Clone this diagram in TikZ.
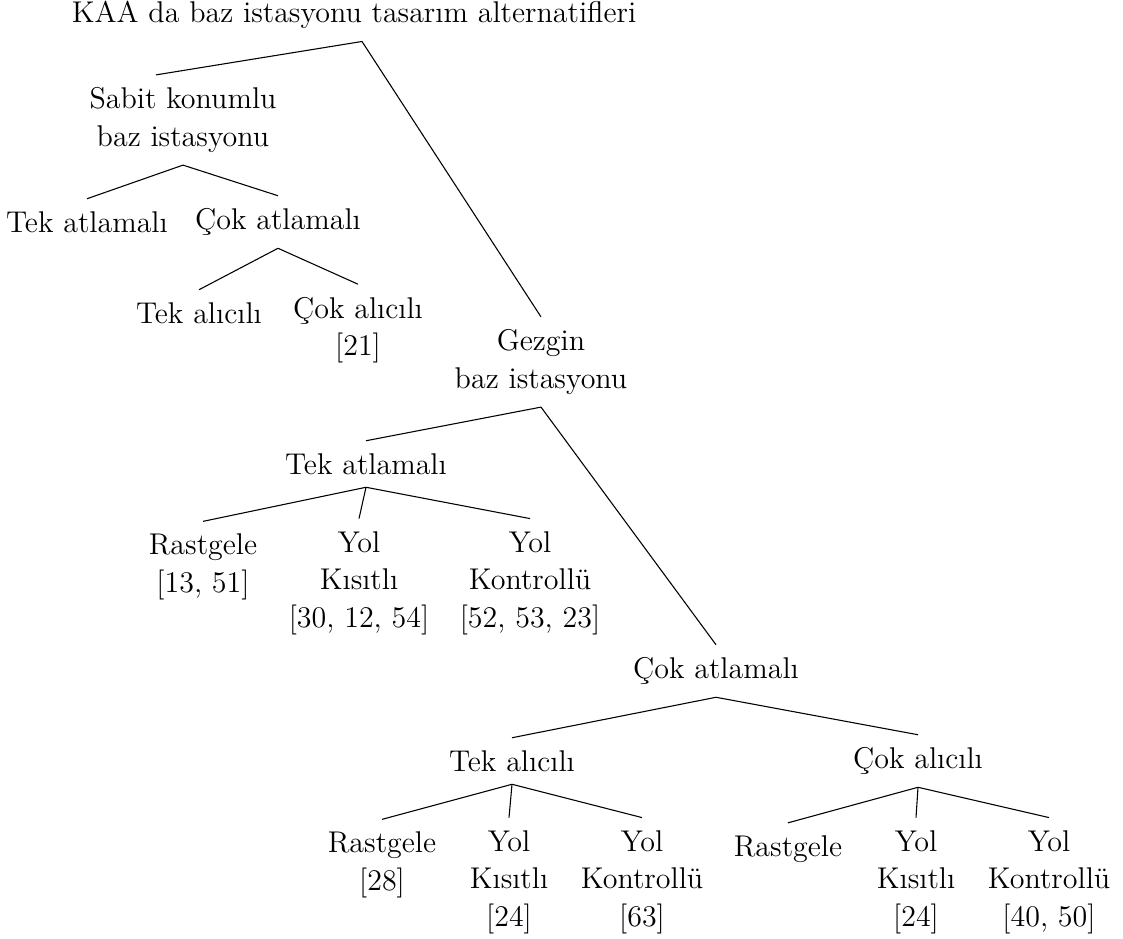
\documentclass[tikz,border=0pt]{standalone}
\usepackage{fontspec}

\begin{document}
\begin{tikzpicture}[x=0.37pt,y=-0.37pt,line width=.4pt,
  every node/.style={align=center,inner xsep=2pt,inner ysep=4.5pt,
    font=\fontsize{11.1}{13.9}\selectfont}]
  \useasboundingbox (0,0) rectangle (1123,938);

  \node (kaa) at (354,15) {KAA da baz istasyonu tasarım alternatifleri};
  \node (sabit) at (183,120) {Sabit konumlu\\baz istasyonu};
  \node (gezgin) at (541,362) {Gezgin\\baz istasyonu};

  \node (s-tek) at (87,222) {Tek atlamalı};
  \node (s-cok) at (278,222) {Çok atlamalı};
  \node (s-tekal) at (199,313) {Tek alıcılı};
  \node (s-cokal) at (358,330) {Çok alıcılı\\{[21]}};

  \node (g-tek) at (366,464) {Tek atlamalı};
  \node (g-tek-r) at (203,567) {Rastgele\\{[13, 51]}};
  \node (g-tek-k) at (359,583) {Yol\\Kısıtlı\\{[30, 12, 54]}};
  \node (g-tek-c) at (530,583) {Yol\\Kontrollü\\{[52, 53, 23]}};

  \node (g-cok) at (716,671) {Çok atlamalı};
  \node (g-tekal) at (512,761) {Tek alıcılı};
  \node (g-tekal-r) at (382,865) {Rastgele\\{[28]}};
  \node (g-tekal-k) at (509,882) {Yol\\Kısıtlı\\{[24]}};
  \node (g-tekal-c) at (642,882) {Yol\\Kontrollü\\{[63]}};
  \node (g-cokal) at (918,761) {Çok alıcılı};
  \node (g-cokal-r) at (788,849) {Rastgele};
  \node (g-cokal-k) at (916,882) {Yol\\Kısıtlı\\{[24]}};
  \node (g-cokal-c) at (1049,882) {Yol\\Kontrollü\\{[40, 50]}};

  \draw ([xshift=8pt*0.37]kaa.south) -- ([xshift=-10pt]sabit.north);
  \draw ([xshift=8pt*0.37]kaa.south) -- (gezgin.north);
  \draw (sabit.south) -- (s-tek.north);
  \draw (sabit.south) -- (s-cok.north);
  \draw (s-cok.south) -- (s-tekal.north);
  \draw (s-cok.south) -- (s-cokal.north);

  \draw (gezgin.south) -- (g-tek.north);
  \draw (gezgin.south) -- (g-cok.north);
  \foreach \c in {g-tek-r,g-tek-k,g-tek-c}
    \draw (g-tek.south) -- (\c.north);
  \draw (g-cok.south) -- (g-tekal.north);
  \draw (g-cok.south) -- (g-cokal.north);
  \foreach \c in {g-tekal-r,g-tekal-k,g-tekal-c}
    \draw (g-tekal.south) -- (\c.north);
  \foreach \c in {g-cokal-r,g-cokal-k,g-cokal-c}
    \draw (g-cokal.south) -- (\c.north);
\end{tikzpicture}
\end{document}
